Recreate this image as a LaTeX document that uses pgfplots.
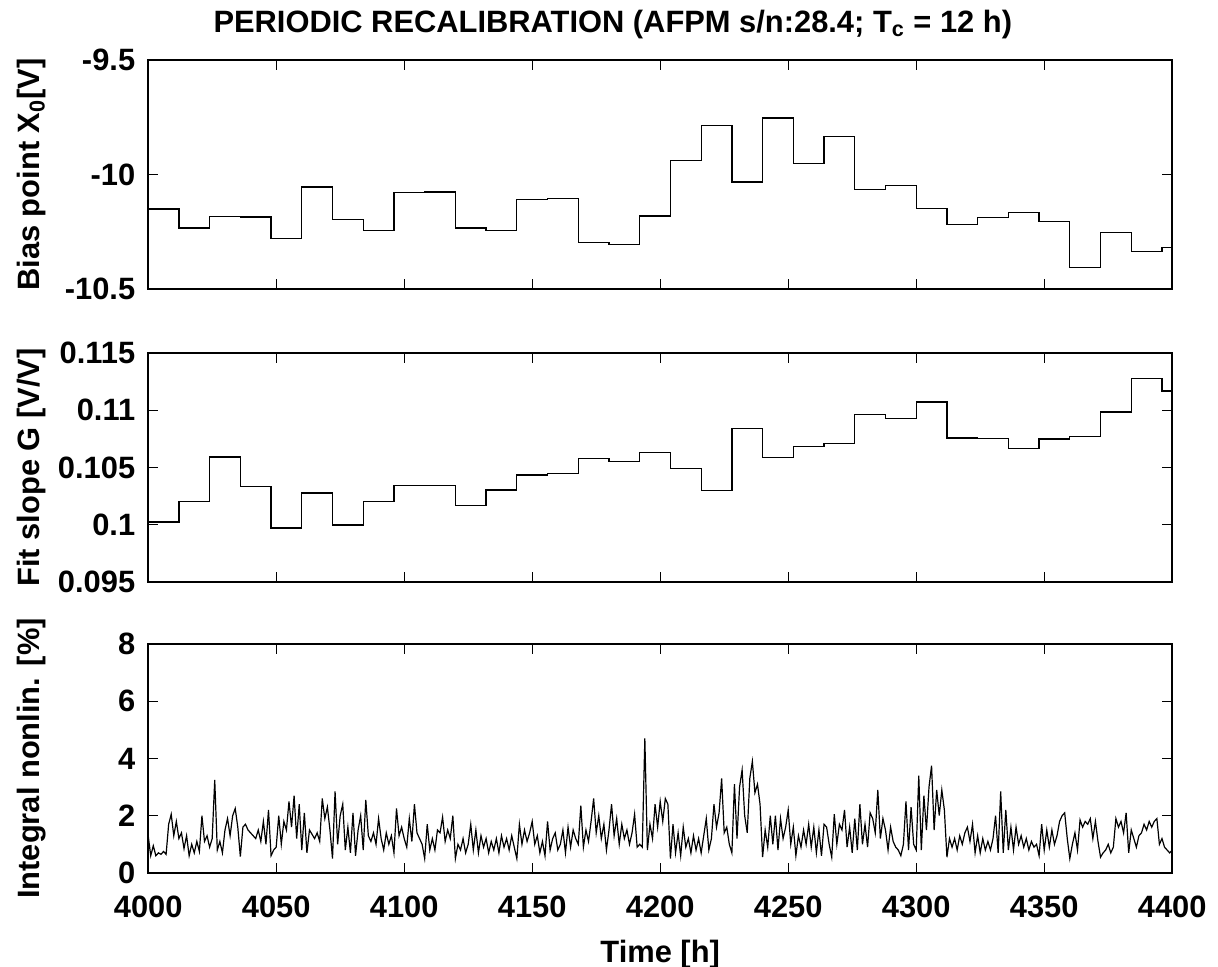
\documentclass[border=0pt]{standalone}
\usepackage{fontspec}
\setmainfont{Liberation Sans}
\usepackage{pgfplots}
\pgfplotsset{compat=1.18}
\begin{document}
\pgfplotsset{
  every axis/.append style={
    font=\fontsize{15.5}{18}\selectfont\bfseries,
    scale only axis, width=514.35pt, height=115pt,
    xmin=4000, xmax=4400,
    xtick={4000,4050,4100,4150,4200,4250,4300,4350,4400},
    tick align=inside, major tick length=5pt,
    ticks=major,
    axis line style={line width=0.9pt},
    every tick/.style={black, line width=0.6pt},
    tick pos=both,
    ylabel style={at={(axis description cs:-0.114,0.5)}, anchor=center, font=\fontsize{15.5}{18}\selectfont\bfseries},
    xticklabel style={yshift=-8pt},
    yticklabel style={xshift=-3pt},
    clip=true,
  }
}
\begin{tikzpicture}
% ---------- top panel ----------
\begin{axis}[at={(0pt,0pt)}, anchor=north west,
  ymin=-10.5, ymax=-9.5,
  ytick={-10.5,-10,-9.5}, yticklabels={-10.5,-10,-9.5},
  xticklabels={},
  ylabel={Bias point X\textsubscript{0}[V]},
  title={PERIODIC RECALIBRATION (AFPM s/n:28.4; T\textsubscript{c} = 12 h)},
  title style={at={(axis description cs:0.4537,1)}, anchor=center, yshift=11.9pt, font=\fontsize{15.5}{18}\selectfont\bfseries},
]
\addplot[const plot, black, line width=0.65pt] coordinates {
(4000,-10.150) (4012,-10.234) (4024,-10.184) (4036,-10.186) (4048,-10.280)
(4060,-10.054) (4072,-10.198) (4084,-10.246) (4096,-10.080) (4108,-10.077)
(4120,-10.234) (4132,-10.245) (4144,-10.108) (4156,-10.104) (4168,-10.298)
(4180,-10.307) (4192,-10.181) (4204,-9.940) (4216,-9.785) (4228,-10.033)
(4240,-9.753) (4252,-9.952) (4264,-9.834) (4276,-10.066) (4288,-10.048)
(4300,-10.148) (4312,-10.219) (4324,-10.189) (4336,-10.166) (4348,-10.204)
(4360,-10.407) (4372,-10.252) (4384,-10.336) (4396,-10.319) (4400,-10.319)
};
\end{axis}
% ---------- middle panel ----------
\begin{axis}[at={(0pt,-147.1pt)}, anchor=north west,
  ymin=0.095, ymax=0.115,
  ytick={0.095,0.1,0.105,0.11,0.115}, yticklabels={0.095,0.1,0.105,0.11,0.115},
  xticklabels={},
  ylabel={Fit slope G [V/V]},
]
\addplot[const plot, black, line width=0.65pt] coordinates {
(4000,0.10024) (4012,0.10201) (4024,0.10590) (4036,0.10330) (4048,0.09970)
(4060,0.10276) (4072,0.09997) (4084,0.10201) (4096,0.10344) (4108,0.10340)
(4120,0.10168) (4132,0.10303) (4144,0.10434) (4156,0.10449) (4168,0.10575)
(4180,0.10554) (4192,0.10632) (4204,0.10491) (4216,0.10300) (4228,0.10838)
(4240,0.10584) (4252,0.10683) (4264,0.10710) (4276,0.10962) (4288,0.10925)
(4300,0.11070) (4312,0.10757) (4324,0.10754) (4336,0.10665) (4348,0.10749)
(4360,0.10767) (4372,0.10983) (4384,0.11279) (4396,0.11168) (4400,0.11168)
};
\end{axis}
% ---------- bottom panel ----------
\begin{axis}[at={(0pt,-293.3pt)}, anchor=north west,
  ymin=0, ymax=8,
  ytick={0,2,4,6,8}, yticklabels={0,2,4,6,8},
  xticklabels={4000,4050,4100,4150,4200,4250,4300,4350,4400},
  ylabel={Integral nonlin. [\%]},
  xlabel={Time [h]},
  xlabel style={at={(axis description cs:0.5,0)}, anchor=center, yshift=-41pt, font=\fontsize{15.5}{18}\selectfont\bfseries},
]
\addplot[black, line width=0.6pt] coordinates {
(4000,1.3)(4001,0.6)(4002,0.95)(4003,0.6)(4004,0.7)(4005,0.65)(4006,0.75)(4007,0.65)(4008,1.7)(4009,2.05)
(4010,1.3)(4011,1.8)(4012,1.2)(4013,1.4)(4014,0.85)(4015,1.3)(4016,0.6)(4017,1.0)(4018,0.7)(4019,1.1)
(4020,0.75)(4021,2.0)(4022,1.1)(4023,1.3)(4024,0.9)(4025,1.2)(4026,3.25)(4027,0.8)(4028,1.1)(4029,0.7)
(4030,1.5)(4031,1.9)(4032,1.3)(4033,2.0)(4034,2.25)(4035,1.6)(4036,0.57)(4037,1.6)(4038,1.7)(4039,1.5)
(4040,1.4)(4041,1.3)(4042,1.2)(4043,1.5)(4044,1.1)(4045,1.8)(4046,1.0)(4047,2.2)(4048,0.6)(4049,0.8)
(4050,0.9)(4051,2.0)(4052,1.0)(4053,1.8)(4054,1.5)(4055,2.5)(4056,1.6)(4057,2.7)(4058,1.2)(4059,2.4)
(4060,0.8)(4061,2.1)(4062,0.7)(4063,1.5)(4064,1.35)(4065,1.2)(4066,1.4)(4067,1.1)(4068,2.6)(4069,1.9)
(4070,2.3)(4071,1.5)(4072,0.5)(4073,2.85)(4074,1.0)(4075,2.0)(4076,2.4)(4077,0.8)(4078,1.6)(4079,0.7)
(4080,2.1)(4081,0.6)(4082,1.5)(4083,2.0)(4084,0.8)(4085,2.55)(4086,1.3)(4087,1.1)(4088,1.4)(4089,1.0)
(4090,1.9)(4091,1.2)(4092,0.8)(4093,1.4)(4094,1.0)(4095,1.3)(4096,0.7)(4097,2.25)(4098,1.3)(4099,1.6)
(4100,1.2)(4101,0.9)(4102,1.9)(4103,1.1)(4104,2.4)(4105,1.4)(4106,1.2)(4107,1.0)(4108,0.5)(4109,1.7)
(4110,0.8)(4111,1.2)(4112,0.8)(4113,1.5)(4114,1.4)(4115,1.95)(4116,1.1)(4117,1.5)(4118,1.2)(4119,2.0)
(4120,0.5)(4121,1.0)(4122,0.8)(4123,1.2)(4124,0.7)(4125,1.0)(4126,1.7)(4127,0.8)(4128,1.5)(4129,0.7)
(4130,1.3)(4131,0.9)(4132,1.2)(4133,0.7)(4134,1.1)(4135,0.8)(4136,1.2)(4137,0.7)(4138,1.3)(4139,0.9)
(4140,1.2)(4141,0.8)(4142,1.3)(4143,0.9)(4144,0.5)(4145,1.7)(4146,1.0)(4147,1.5)(4148,1.1)(4149,1.4)
(4150,1.8)(4151,1.0)(4152,1.3)(4153,0.7)(4154,1.1)(4155,0.6)(4156,1.8)(4157,0.8)(4158,1.2)(4159,1.4)
(4160,0.8)(4161,1.0)(4162,1.5)(4163,0.7)(4164,1.6)(4165,0.9)(4166,1.5)(4167,1.2)(4168,1.0)(4169,2.35)
(4170,0.9)(4171,1.5)(4172,1.1)(4173,1.8)(4174,2.6)(4175,1.4)(4176,2.0)(4177,1.2)(4178,1.7)(4179,0.8)
(4180,1.5)(4181,2.4)(4182,1.3)(4183,1.9)(4184,1.0)(4185,1.7)(4186,1.2)(4187,1.5)(4188,1.0)(4189,1.4)
(4190,2.05)(4191,0.9)(4192,1.0)(4193,0.9)(4194,4.7)(4195,0.8)(4196,1.7)(4197,1.2)(4198,2.4)(4199,1.6)
(4200,2.5)(4201,1.8)(4202,2.6)(4203,2.4)(4204,0.5)(4205,1.7)(4206,0.7)(4207,1.4)(4208,0.6)(4209,1.6)
(4210,0.9)(4211,1.2)(4212,0.7)(4213,1.3)(4214,0.8)(4215,1.2)(4216,0.7)(4217,1.3)(4218,1.9)(4219,0.8)
(4220,1.2)(4221,2.4)(4222,1.6)(4223,2.1)(4224,3.3)(4225,1.4)(4226,1.6)(4227,1.0)(4228,0.7)(4229,3.1)
(4230,1.2)(4231,3.0)(4232,3.6)(4233,2.0)(4234,1.4)(4235,3.3)(4236,3.9)(4237,2.8)(4238,3.1)(4239,2.4)
(4240,0.55)(4241,1.5)(4242,0.9)(4243,2.0)(4244,1.0)(4245,2.0)(4246,0.8)(4247,1.9)(4248,1.2)(4249,1.6)
(4250,2.2)(4251,1.0)(4252,1.6)(4253,0.6)(4254,1.3)(4255,0.9)(4256,1.5)(4257,1.0)(4258,1.7)(4259,0.9)
(4260,1.6)(4261,0.7)(4262,1.5)(4263,0.6)(4264,1.7)(4265,1.6)(4266,1.0)(4267,0.55)(4268,2.05)(4269,1.0)
(4270,1.7)(4271,1.5)(4272,2.2)(4273,0.9)(4274,1.6)(4275,0.7)(4276,1.9)(4277,0.8)(4278,2.4)(4279,1.0)
(4280,1.7)(4281,0.9)(4282,2.1)(4283,1.9)(4284,1.4)(4285,2.9)(4286,1.2)(4287,1.9)(4288,1.5)(4289,0.8)
(4290,1.6)(4291,1.1)(4292,0.9)(4293,0.8)(4294,0.6)(4295,1.0)(4296,2.5)(4297,0.8)(4298,2.3)(4299,1.0)
(4300,0.8)(4301,3.4)(4302,0.8)(4303,2.7)(4304,1.5)(4305,3.0)(4306,3.75)(4307,1.5)(4308,2.9)(4309,2.0)
(4310,2.9)(4311,2.2)(4312,0.55)(4313,1.2)(4314,0.9)(4315,1.2)(4316,0.8)(4317,1.3)(4318,1.0)(4319,1.4)
(4320,1.6)(4321,1.1)(4322,1.7)(4323,0.7)(4324,1.3)(4325,0.7)(4326,1.2)(4327,0.8)(4328,1.1)(4329,0.8)
(4330,1.2)(4331,2.0)(4332,0.7)(4333,2.85)(4334,0.7)(4335,2.2)(4336,0.8)(4337,1.6)(4338,0.8)(4339,1.6)
(4340,1.0)(4341,1.3)(4342,0.9)(4343,1.2)(4344,0.8)(4345,1.1)(4346,0.9)(4347,1.0)(4348,0.6)(4349,1.7)
(4350,0.8)(4351,1.5)(4352,0.9)(4353,1.5)(4354,1.0)(4355,1.3)(4356,1.8)(4357,2.0)(4358,2.1)(4359,1.2)
(4360,0.5)(4361,1.0)(4362,1.4)(4363,0.8)(4364,1.85)(4365,1.6)(4366,1.8)(4367,1.7)(4368,1.9)(4369,1.2)
(4370,1.8)(4371,1.1)(4372,0.55)(4373,0.7)(4374,0.8)(4375,1.0)(4376,0.7)(4377,0.9)(4378,1.9)(4379,1.6)
(4380,1.8)(4381,1.4)(4382,2.1)(4383,0.7)(4384,1.5)(4385,1.2)(4386,0.9)(4387,1.3)(4388,1.4)(4389,1.7)
(4390,1.5)(4391,1.8)(4392,1.6)(4393,1.8)(4394,1.9)(4395,1.0)(4396,1.2)(4397,0.9)(4398,0.8)(4399,0.7)
(4400,0.8)
};
\end{axis}
\pgfresetboundingbox
\path (-71.65pt,30.15pt) rectangle (537.35pt,-455.35pt);
\end{tikzpicture}
\end{document}
